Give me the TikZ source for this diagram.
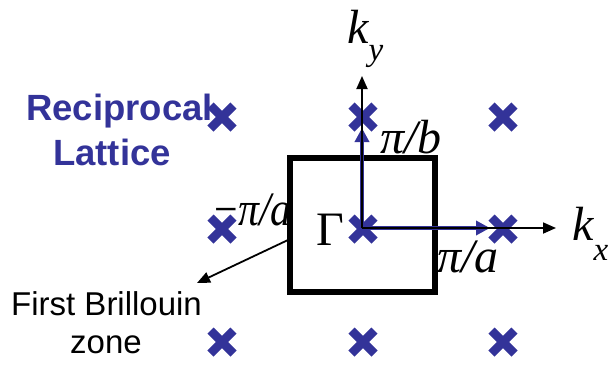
\documentclass[tikz,border=0pt]{standalone}
\usepackage{fontspec}
\setmainfont{Liberation Serif}
\newfontfamily\arialf{Liberation Sans}
\usetikzlibrary{arrows.meta}
\definecolor{latblue}{RGB}{51,51,153}
\begin{document}
\begin{tikzpicture}[x=1pt,y=-1pt,
  lbl/.style={inner sep=0pt,anchor=base west},
  mathlbl/.style={lbl,font=\fontsize{48}{48}\selectfont\itshape},
  bluetxt/.style={lbl,text=latblue,font=\arialf\bfseries\fontsize{36.5}{40}\selectfont},
  blktxt/.style={lbl,font=\arialf\fontsize{33}{36}\selectfont},
  axisarrow/.style={line width=1.8pt,-{Triangle[length=13pt,width=11pt]}},
  bluearrow/.style={draw=latblue,line width=4pt,-{Triangle[length=14pt,width=14pt]}},
  bzbox/.style={draw,line width=6pt,minimum width=145pt,minimum height=134pt,inner sep=0pt},
  pics/latx/.style={code={\draw[latblue,line width=8.5pt] (-11.5,-11.5)--(11.5,11.5) (-11.5,11.5)--(11.5,-11.5);}}
]
\useasboundingbox (0,0) rectangle (614,365);
% labels
\node[bluetxt] (recip) at (26,120) {Reciprocal};
\node[bluetxt] (latt) at (53,165) {Lattice};
\node[blktxt] (fbz) at (11,315) {First Brillouin};
\node[blktxt] (zone) at (70,353) {zone};
\node[mathlbl] (ky) at (347,43) {k\raisebox{-17pt}{\fontsize{33}{33}\selectfont y}};
\node[mathlbl] (kx) at (572,240) {k\raisebox{-20pt}{\fontsize{33}{33}\selectfont x}};
\node[mathlbl] (pib) at (380,153) {π/b};
\node[mathlbl] (pia) at (437,272) {π/a};
\node[inner sep=0pt,anchor=base east,font=\fontsize{48}{48}\selectfont\itshape,xscale=0.87] (mpia) at (292,225) {\upshape−\itshape π/a};
\node[lbl,font=\fontsize{48}{48}\selectfont] (gamma) at (316,245) {Γ};
% zone box
\node[bzbox] (bz) at (362.5,225) {};
% axes
\coordinate (O) at (362,228);
\coordinate (kyend) at (362,76);
\coordinate (kxend) at (556,228);
\coordinate (bend) at (362,128);
\coordinate (aend) at (490,228);
\draw[bluearrow] (O) -- (bend);
\draw[bluearrow] (O) -- (aend);
% lattice points
\foreach \i/\x in {1/222,2/363,3/503}{
  \foreach \j/\y in {1/117,2/229,3/342}{
    \pic (p\i\j) at (\x,\y) {latx};
  }
}
\draw[axisarrow] (O) -- (kyend);
\draw[axisarrow] (O) -- (kxend);
% pointer to first Brillouin zone
\coordinate (bzfrom) at (288,240);
\coordinate (bzto) at (197,283);
\draw[axisarrow] (bzfrom) -- (bzto);
\end{tikzpicture}
\end{document}
